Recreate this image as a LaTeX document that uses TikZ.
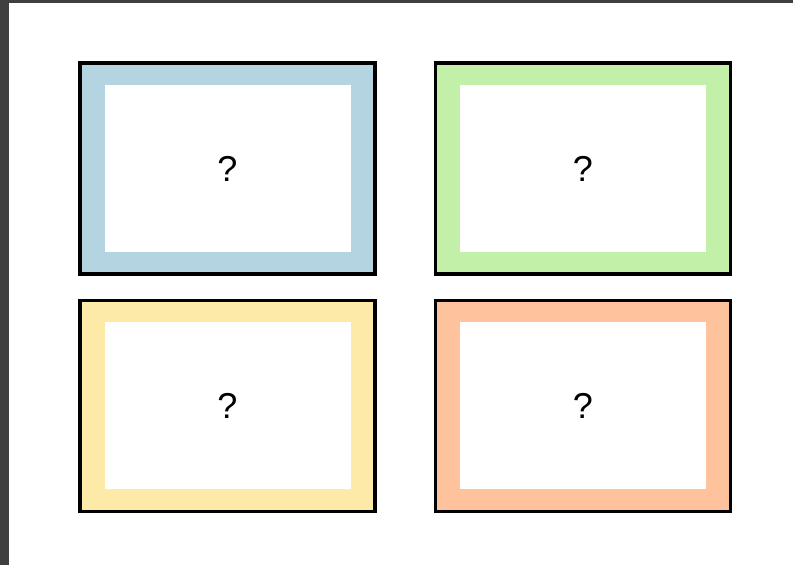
\documentclass[tikz,border=0pt]{standalone}
\usepackage{fontspec}
\setmainfont{Liberation Sans}
\usepackage{tikz}
\usetikzlibrary{positioning}

\definecolor{cardblue}{HTML}{B3D4E0}
\definecolor{cardgreen}{HTML}{C2F0A8}
\definecolor{cardyellow}{HTML}{FEEAA8}
\definecolor{cardorange}{HTML}{FEC39C}
\definecolor{frame}{HTML}{3F3F3F}

\begin{document}
\begin{tikzpicture}[
    x=1pt, y=-1pt,
    % --- STYLES ---
    card/.style={
        rectangle, draw=black, line width=3.4pt,
        minimum width=295pt, minimum height=211pt,
        inner sep=0pt
    },
    slot/.style={
        rectangle, fill=white,
        minimum width=246pt, minimum height=167pt,
        inner sep=0pt, font=\fontsize{36}{40}\selectfont
    }
]
\useasboundingbox (0,0) rectangle (793,565);

% ===== 1. WINDOW EDGE =====
\fill[frame] (0,0) rectangle (9,565);
\fill[frame] (0,0) rectangle (793,3);

% ===== 2. CARDS =====
\node[card, fill=cardblue] (c1) at (227.5,168.5) {};
\node[card, fill=cardgreen, right=57pt of c1] (c2) {};
\node[card, fill=cardyellow, below=23pt of c1] (c3) {};
\node[card, fill=cardorange, below=23pt of c2] (c4) {};

% ===== 3. SLOTS =====
\node[slot] (q1) at (c1) {?};
\node[slot] (q2) at (c2) {?};
\node[slot] (q3) at (c3) {?};
\node[slot] (q4) at (c4) {?};

\end{tikzpicture}
\end{document}
